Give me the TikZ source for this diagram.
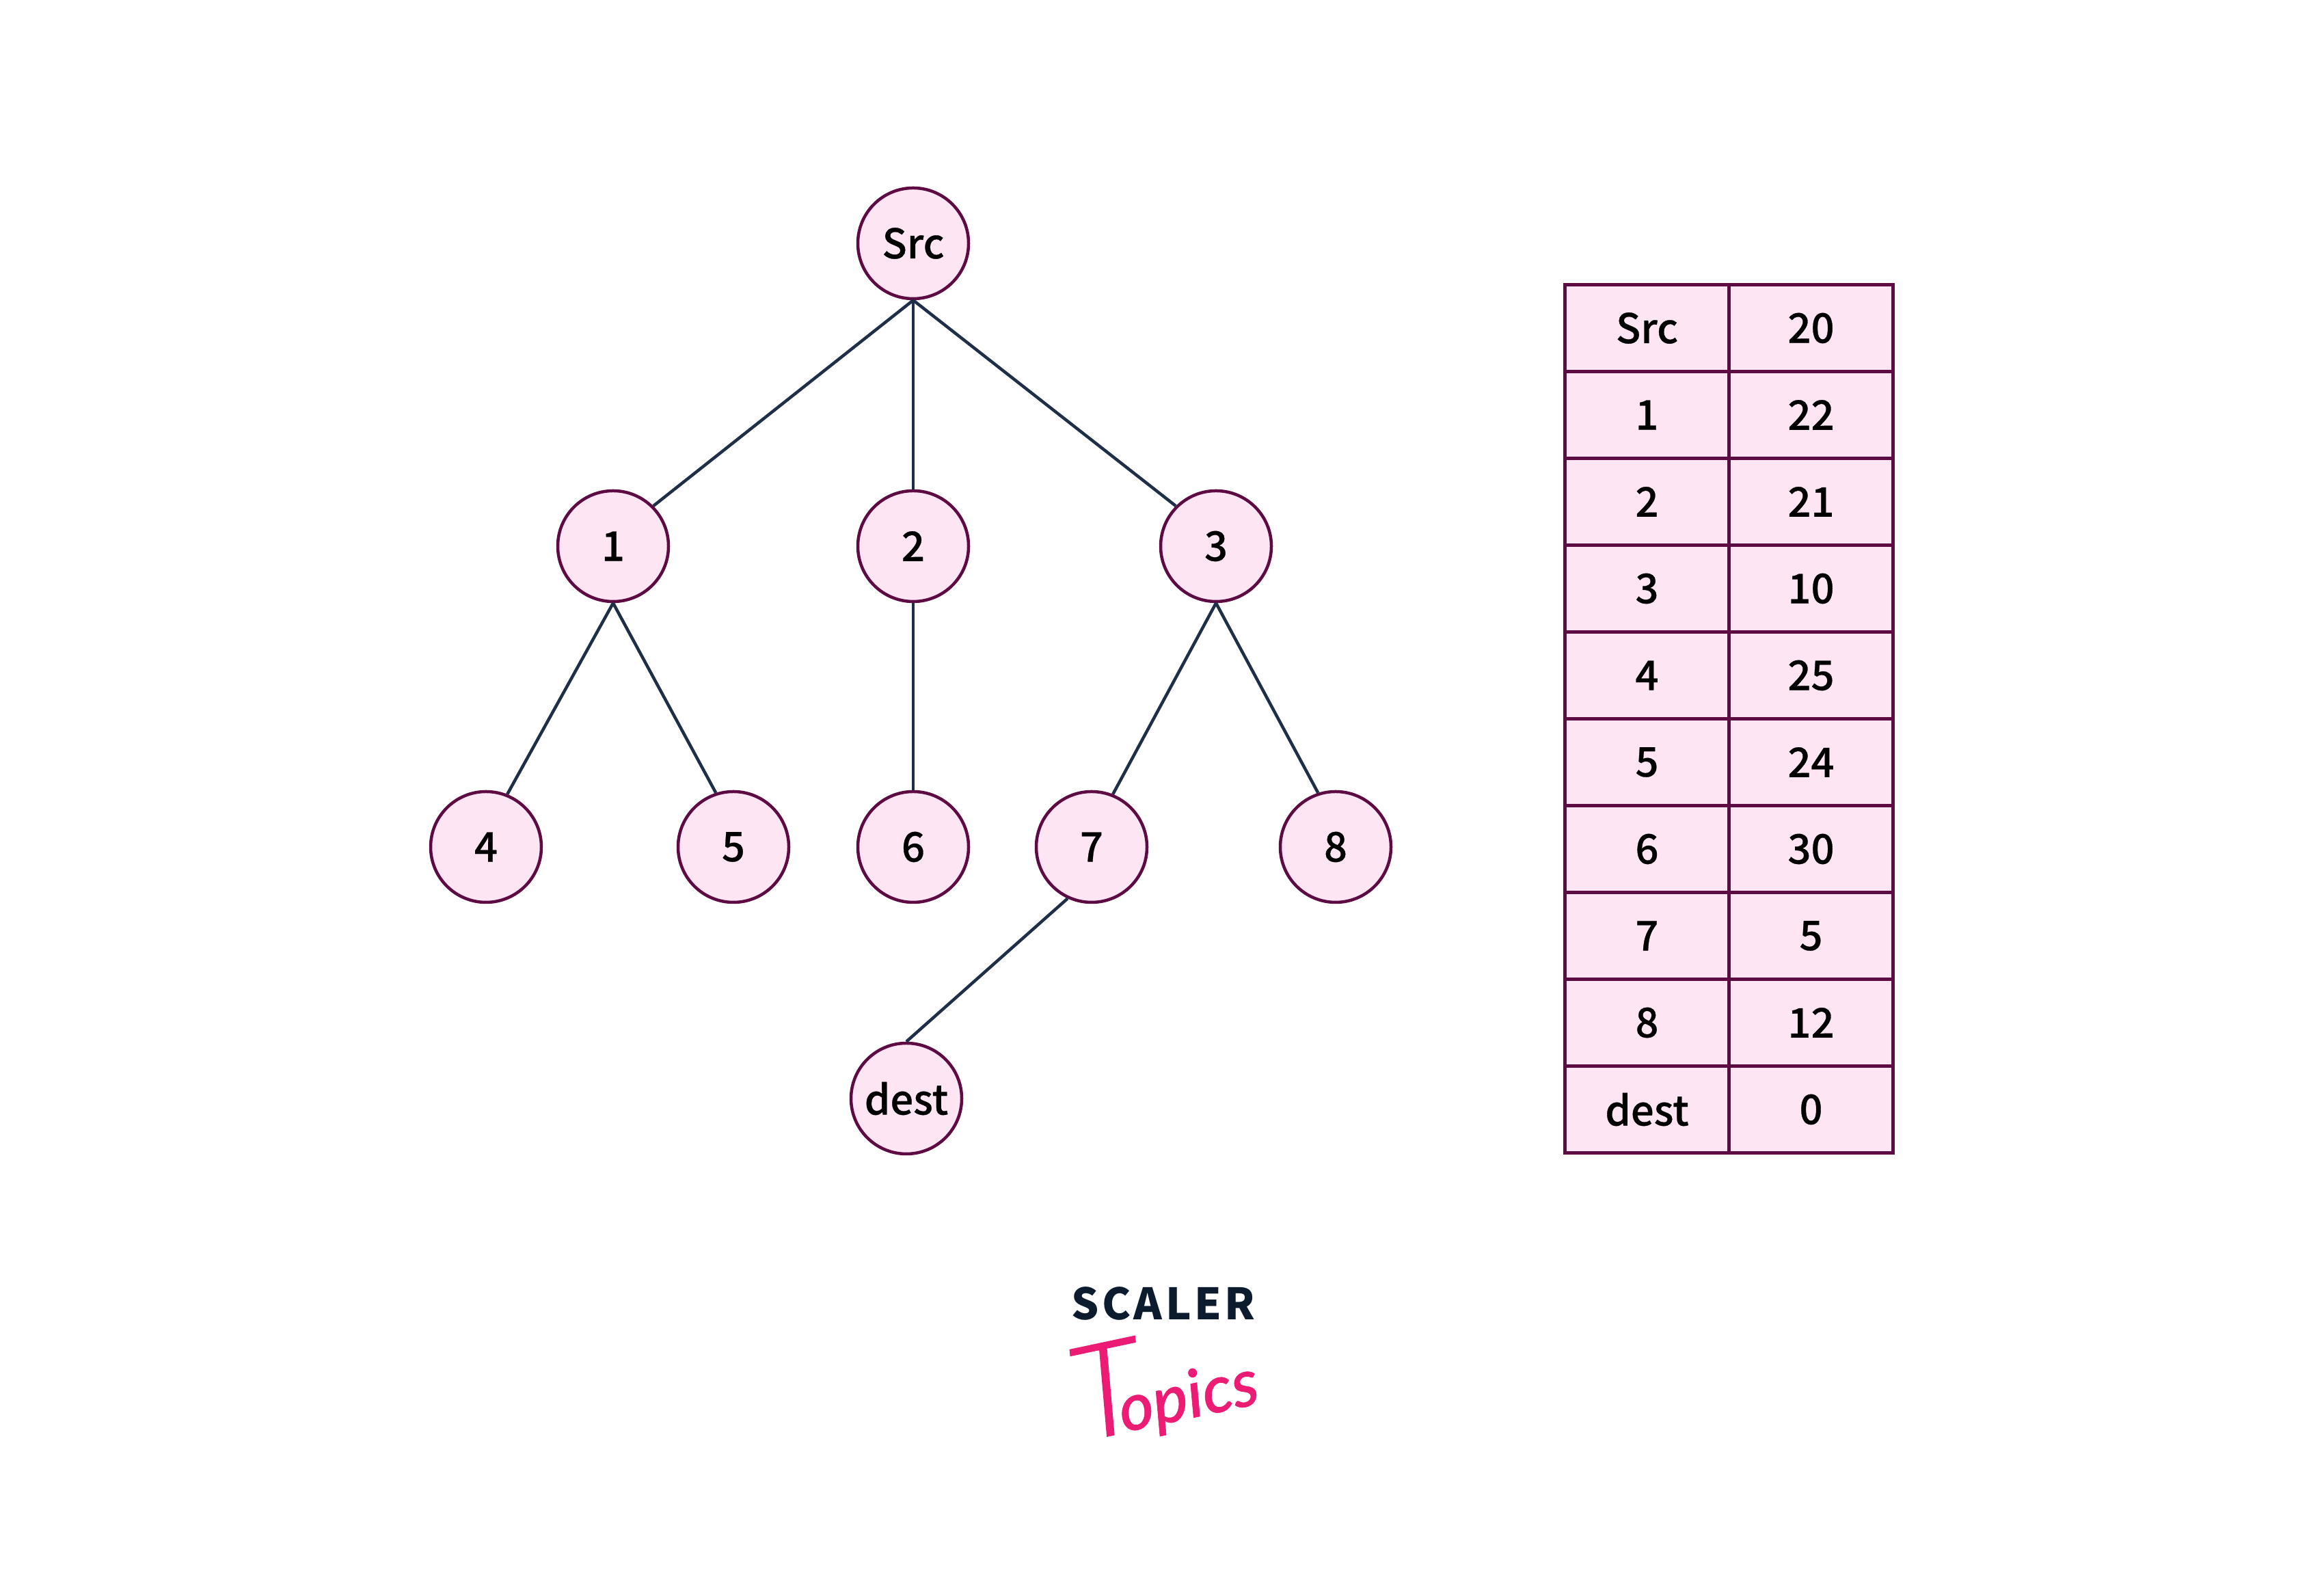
\documentclass[tikz,border=0pt]{standalone}
\usepackage{fontspec}
\usetikzlibrary{positioning}
\newfontfamily\labelfont{Noto Sans CJK SC}[UprightFont=* Medium,FakeBold=.5]
\newfontfamily\scalerfont{Noto Sans CJK SC}[UprightFont=* Black,LetterSpace=7]
\newfontfamily\topicsfont{Lato}[UprightFont=* Medium Italic,FakeBold=.6]
\newfontfamily\topicscap{Lato}[UprightFont=* Light Italic,FakeBold=1.2]
\definecolor{Plum}{HTML}{5E0A43}
\definecolor{Blush}{HTML}{FEE5F3}
\definecolor{Slate}{HTML}{1E2F47}
\definecolor{Ink}{HTML}{0D1B2E}
\definecolor{Rose}{HTML}{EC1C74}

\begin{document}
\begin{tikzpicture}[
 on grid,
 vert/.style={circle,draw=Plum,fill=Blush,line width=.45mm,minimum size=1.62cm,inner sep=0pt,font=\labelfont\fontsize{17}{18}\selectfont},
 cell/.style={rectangle,draw=Plum,fill=Blush,line width=.45mm,minimum width=2.4cm,minimum height=1.27cm,inner sep=0pt,outer sep=0pt,font=\labelfont\fontsize{17}{18}\selectfont},
 edge/.style={Slate,line width=.45mm}]
 \useasboundingbox (0,0) rectangle (34,23.04);
 % tree
 \node[vert] (src) at (13.36,19.48) {Src};
 \node[vert,below left=4.43cm and 4.39cm of src] (v1) {1};
 \node[vert,below=4.43cm of src] (v2) {2};
 \node[vert,below right=4.43cm and 4.43cm of src] (v3) {3};
 \node[vert,below left=4.4cm and 1.82cm of v3] (v7) {7};
 \node[vert,below left=4.4cm and 1.86cm of v1] (v4) {4};
 \node[vert,below right=4.4cm and 1.76cm of v1] (v5) {5};
 \node[vert,below=4.4cm of v2] (v6) {6};
 \node[vert,below right=4.4cm and 1.75cm of v3] (v8) {8};
 \node[vert,below left=3.68cm and 2.71cm of v7] (dest) {dest};
 \draw[edge] (src.south)--(v1.north east); \draw[edge] (src.south)--(v2.north); \draw[edge] (src.south)--(v3.north west);
 \draw[edge] (v1.south)--(v4.68); \draw[edge] (v1.south)--(v5.108); \draw[edge] (v2.south)--(v6.north);
 \draw[edge] (v3.south)--(v7.68); \draw[edge] (v3.south)--(v8.108); \draw[edge] (v7.245)--(dest.north);
 % table
 \node[cell,below right=1.24cm and 10.735cm of src] (tsrc) {Src};
 \node[cell,right=2.4cm of tsrc] (csrc) {20};
 \node[cell,below=1.27cm of tsrc] (t1) {1}; \node[cell,below=1.27cm of csrc] (c1) {22};
 \node[cell,below=1.27cm of t1] (t2) {2}; \node[cell,below=1.27cm of c1] (c2) {21};
 \node[cell,below=1.27cm of t2] (t3) {3}; \node[cell,below=1.27cm of c2] (c3) {10};
 \node[cell,below=1.27cm of t3] (t4) {4}; \node[cell,below=1.27cm of c3] (c4) {25};
 \node[cell,below=1.27cm of t4] (t5) {5}; \node[cell,below=1.27cm of c4] (c5) {24};
 \node[cell,below=1.27cm of t5] (t6) {6}; \node[cell,below=1.27cm of c5] (c6) {30};
 \node[cell,below=1.27cm of t6] (t7) {7}; \node[cell,below=1.27cm of c6] (c7) {5};
 \node[cell,below=1.27cm of t7] (t8) {8}; \node[cell,below=1.27cm of c7] (c8) {12};
 \node[cell,below=1.27cm of t8] (tdest) {dest}; \node[cell,below=1.27cm of c8] (cdest) {0};
 % logo
 \node[text=Ink,inner sep=0pt,font=\scalerfont\fontsize{18}{18}\selectfont] (scaler) at (17.02,3.97) {SCALER};
 \node[text=Rose,inner sep=0pt,rotate=12,font=\topicsfont\fontsize{27.5}{30}\selectfont,below=1.16cm of scaler] (topics) {{\topicscap\fontsize{54}{54}\selectfont T}\hspace{-3.8mm}opics};
\end{tikzpicture}
\end{document}
